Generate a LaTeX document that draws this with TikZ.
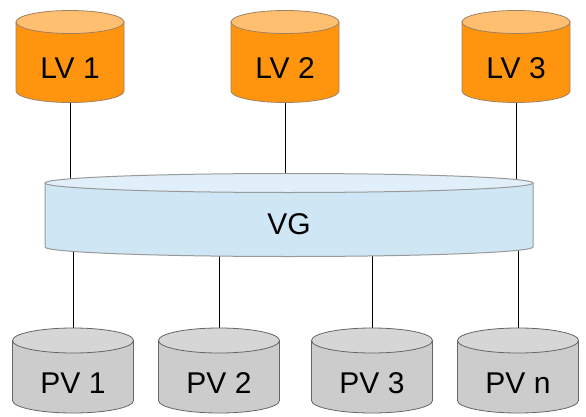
\documentclass[tikz,border=0pt]{standalone}
\usepackage{fontspec}
\setmainfont{Liberation Sans}
\usepackage{tikz}
\usetikzlibrary{backgrounds}
\definecolor{lvorange}{HTML}{FF950E}
\definecolor{lvlight}{HTML}{FFBF70}
\definecolor{lvedge}{HTML}{A08060}
\definecolor{vgblue}{HTML}{CFE7F5}
\definecolor{vglight}{HTML}{E0EFF9}
\definecolor{vgedge}{HTML}{999999}
\definecolor{pvgray}{HTML}{CCCCCC}
\definecolor{pvlight}{HTML}{D6D6D6}
\definecolor{pvedge}{HTML}{666666}

\tikzset{
  lvbody/.style={fill=lvorange,draw=lvedge,line width=0.8pt},
  lvtop/.style={fill=lvlight,draw=lvedge,line width=0.8pt},
  vgbody/.style={fill=vgblue,draw=vgedge,line width=1pt},
  vgtop/.style={fill=vglight,draw=vgedge,line width=1pt},
  pvbody/.style={fill=pvgray,draw=pvedge,line width=0.8pt},
  pvtop/.style={fill=pvlight,draw=pvedge,line width=0.8pt},
  drumtext/.style={inner sep=0pt,font=\fontsize{30}{36}\selectfont},
  link/.style={black,line width=1pt}
}

% name, x, top y, x radius, y radius, height, kind, label
\newcommand{\drum}[8]{%
  \filldraw[#7body] (#2-#4,#3) -- ++(0,-#6)
    arc[start angle=180,end angle=360,x radius=#4,y radius=#5] -- ++(0,#6) -- cycle;
  \filldraw[#7top] (#2,#3) ellipse[x radius=#4,y radius=#5];
  \node[drumtext,minimum width=2*#4,minimum height=#6] (#1) at (#2,#3-#5-#6/2) {#8};
}

\begin{document}
\begin{tikzpicture}[x=1pt,y=1pt]
  \useasboundingbox (0,0) rectangle (586,416);

  % logical volumes
  \drum{lv1}{70}{394}{54}{11.5}{69}{lv}{LV 1}
  \drum{lv2}{285}{394}{54}{11.5}{69}{lv}{LV 2}
  \drum{lv3}{516}{394}{54}{11.5}{69}{lv}{LV 3}

  % volume group
  \drum{vg}{289}{233}{244}{9.5}{64}{vg}{VG}

  % physical volumes
  \drum{pv1}{73}{75.5}{60.5}{12.5}{60}{pv}{PV 1}
  \drum{pv2}{219}{75.5}{60.5}{12.5}{60}{pv}{PV 2}
  \drum{pv3}{372}{75.5}{60.5}{12.5}{60}{pv}{PV 3}
  \drum{pvn}{518}{75.5}{60.5}{12.5}{60}{pv}{PV n}

  \begin{scope}[on background layer]
    \foreach \lv in {lv1,lv2,lv3}
      \draw[link] (\lv) -- (\lv |- vg);
    \foreach \pv in {pv1,pv2,pv3,pvn}
      \draw[link] (\pv |- vg) -- (\pv);
  \end{scope}
\end{tikzpicture}
\end{document}
